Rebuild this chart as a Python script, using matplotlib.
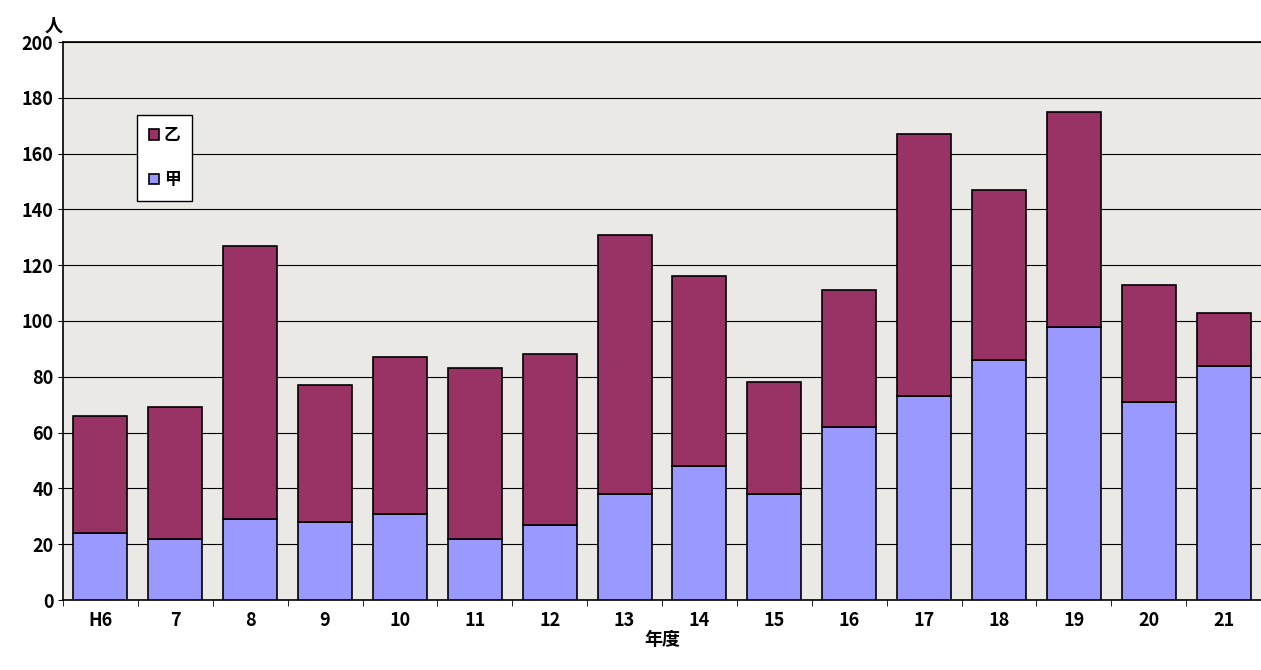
import matplotlib
matplotlib.use("Agg")
import matplotlib.pyplot as plt
import numpy as np

plt.rcParams['font.family'] = ['Noto Sans CJK JP', 'DejaVu Sans']

years = ["H6", "7", "8", "9", "10", "11", "12", "13", "14", "15", "16", "17", "18", "19", "20", "21"]
total = [66, 69, 127, 77, 87, 83, 88, 131, 116, 78, 111, 167, 147, 175, 113, 103]
kou = [24, 22, 29, 28, 31, 22, 27, 38, 48, 38, 62, 73, 86, 98, 71, 84]
otsu = [t - k for t, k in zip(total, kou)]

fig = plt.figure(figsize=(12.61, 6.70), dpi=100)
ax = fig.add_axes([63 / 1261, 70 / 670, 1 - 63 / 1261, (600 - 42) / 670])
ax.set_facecolor("#ebe9e6")

x = np.arange(len(years))
ax.bar(x, kou, width=0.72, color="#9999ff", edgecolor="black", linewidth=1.2, label="甲", zorder=3)
ax.bar(x, otsu, width=0.72, bottom=kou, color="#993366", edgecolor="black", linewidth=1.2, label="乙", zorder=3)

ax.set_xlim(-0.46, 15.32)
ax.set_ylim(0, 200)
ax.set_yticks(range(0, 201, 20))
ax.yaxis.grid(True, color="black", linewidth=0.8, zorder=1)
ax.set_xticks(x)
ax.set_xticklabels(years, fontweight="bold", fontsize=13)
ax.set_xticks(np.arange(-0.5, 16, 1), minor=True)
ax.tick_params(axis="x", which="major", length=0, pad=8)
ax.tick_params(axis="x", which="minor", length=4, direction="out")
ax.tick_params(axis="y", labelsize=13, direction="out")
for lbl in ax.get_yticklabels():
    lbl.set_fontweight("bold")
for s in ax.spines.values():
    s.set_linewidth(1.2)
ax.spines["right"].set_visible(False)

ax.set_xlabel("年度", fontweight="bold", fontsize=13, labelpad=0)
ax.text(-0.015, 1.012, "人", transform=ax.transAxes, fontsize=13, fontweight="bold", va="bottom", ha="left")

handles, labels = ax.get_legend_handles_labels()
leg = ax.legend(handles[::-1], labels[::-1], loc="upper left", bbox_to_anchor=(0.055, 0.885),
                fancybox=False, edgecolor="black", framealpha=1, handlelength=0.6, handleheight=0.6,
                labelspacing=1.6, handletextpad=0.3, prop={"weight": "bold", "size": 12}, borderpad=0.7)
leg.get_frame().set_linewidth(1.0)

fig.savefig("out.png", dpi=100)
